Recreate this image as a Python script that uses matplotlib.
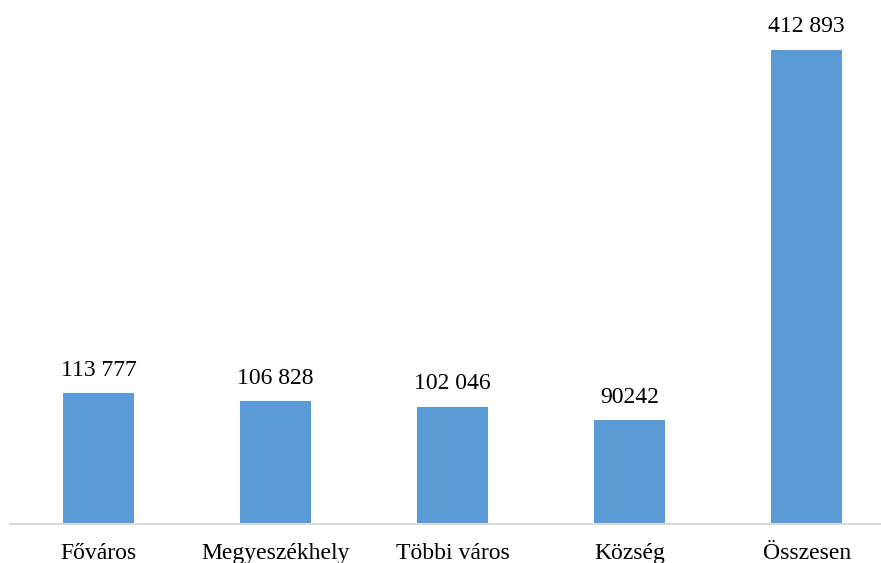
import matplotlib.pyplot as plt

categories = ['Főváros', 'Megyeszékhely', 'Többi város', 'Község', 'Összesen']
values = [113777, 106828, 102046, 90242, 412893]
value_labels = ['113 777', '106 828', '102 046', '90242', '412 893']

plt.rcParams['font.family'] = ['Liberation Serif', 'DejaVu Serif']

fig = plt.figure(figsize=(8.81, 5.63), dpi=100)
ax = fig.add_axes([10 / 881, 39 / 563, 871 / 881, 524 / 563])

x = range(len(categories))
bars = ax.bar(x, values, width=0.4, color='#5B9BD5')

for bar, lab in zip(bars, value_labels):
    ax.annotate(lab, (bar.get_x() + bar.get_width() / 2, bar.get_height()),
                xytext=(0, 9), textcoords='offset points',
                ha='center', va='bottom', fontsize=17)

ax.set_xlim(-0.5, 4.42)
ax.set_ylim(0, 412893 * 524 / 474)
ax.set_xticks(list(x))
ax.set_xticklabels(categories, fontsize=17)
ax.tick_params(axis='x', length=0, pad=14)
ax.set_yticks([])
for side in ['top', 'right', 'left']:
    ax.spines[side].set_visible(False)
ax.spines['bottom'].set_color('#D9D9D9')
ax.spines['bottom'].set_linewidth(1.5)

fig.savefig('out.png', dpi=100)
